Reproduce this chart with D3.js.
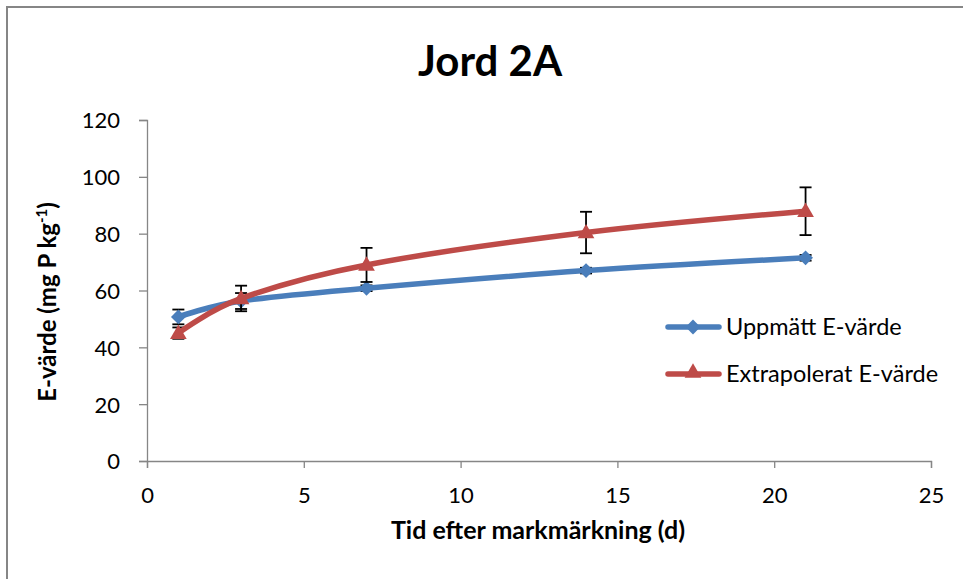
<!DOCTYPE html>
<html>
<head>
<meta charset="utf-8">
<script src="https://cdn.jsdelivr.net/npm/d3@7"></script>
<style>
  html, body { margin: 0; padding: 0; background: #fff; }
  svg { display: block; font-family: Lato, "Open Sans", sans-serif; }
</style>
</head>
<body>
<svg id="chart" width="963" height="579"></svg>
<script>
// Sampling days after soil labelling
const days = [1, 3, 7, 14, 21];
// Measured E-value and its error
const uppmatt = [50.7, 56.3, 60.8, 67.0, 71.5];
const uppmattErr = [2.6, 2.8, 1.0, 1.0, 1.0];
// Extrapolated E-value and its error
const extrapolerat = [45.0, 57.2, 69.0, 80.4, 87.9];
const extrapoleratErr = [2.0, 4.5, 6.0, 7.3, 8.4];

const xTicks = [0, 5, 10, 15, 20, 25];
const yTicks = [0, 20, 40, 60, 80, 100, 120];

const svg = d3.select("#chart");

// outer chart frame (runs off the right and bottom edges)
svg.append("rect")
  .attr("x", 7).attr("y", 7).attr("width", 1000).attr("height", 600)
  .attr("fill", "#fff").attr("stroke", "#868686").attr("stroke-width", 2);

const x = d3.scaleLinear().domain([0, 25]).range([147, 931]);
const y = d3.scaleLinear().domain([0, 120]).range([461, 120]);

// axes
const xAxis = svg.append("g").attr("transform", "translate(0,461)")
  .call(d3.axisBottom(x).tickValues(xTicks).tickSize(7).tickPadding(19));
const yAxis = svg.append("g").attr("transform", "translate(147,0)")
  .call(d3.axisLeft(y).tickValues(yTicks).tickSize(8).tickPadding(19));
[xAxis, yAxis].forEach(g => {
  g.selectAll("path.domain").attr("stroke", "#868686").attr("stroke-width", 1.3);
  g.selectAll(".tick line").attr("stroke", "#868686").attr("stroke-width", 1.3);
  g.selectAll(".tick text").attr("fill", "#000").style("font-size", "22px")
    .style("font-family", "Lato, 'Open Sans', sans-serif");
});
yAxis.selectAll(".tick text").attr("dy", "0.36em");

// titles
svg.append("text").attr("x", 490).attr("y", 76).attr("text-anchor", "middle")
  .style("font-size", "42px").style("font-weight", "bold").text("Jord 2A");

svg.append("text").attr("x", 538).attr("y", 539).attr("text-anchor", "middle")
  .style("font-size", "25px").style("font-weight", "bold")
  .text("Tid efter markmärkning (d)");

const yt = svg.append("text").attr("transform", "translate(56,302) rotate(-90)")
  .attr("text-anchor", "middle").style("font-size", "24px").style("font-weight", "bold");
yt.append("tspan").text("E-värde (mg P kg");
yt.append("tspan").attr("dy", -9).style("font-size", "15px").text("-1");
yt.append("tspan").attr("dy", 9).text(")");

const series = [
  { name: "Uppmätt E-värde", values: uppmatt, err: uppmattErr, color: "#4A7EBB", marker: "diamond" },
  { name: "Extrapolerat E-värde", values: extrapolerat, err: extrapoleratErr, color: "#BE4B48", marker: "triangle" }
];

const line = d3.line()
  .x(d => x(d[0])).y(d => y(d[1]))
  .curve(d3.curveCatmullRom.alpha(0));

const symbolPath = (m) => m === "diamond"
  ? d3.symbol().type(d3.symbolDiamond2).size(140)()
  : d3.symbol().type(d3.symbolTriangle2).size(200)();

// error bars
function drawErrors(s) {
  const g = svg.append("g").attr("stroke", "#000").attr("stroke-width", 1.8);
  days.forEach((d, i) => {
    const cx = x(d), top = y(s.values[i] + s.err[i]), bot = y(s.values[i] - s.err[i]);
    g.append("line").attr("x1", cx).attr("x2", cx).attr("y1", top).attr("y2", bot);
    g.append("line").attr("x1", cx - 6).attr("x2", cx + 6).attr("y1", top).attr("y2", top);
    g.append("line").attr("x1", cx - 6).attr("x2", cx + 6).attr("y1", bot).attr("y2", bot);
  });
}

series.forEach(s => {
  drawErrors(s);
  const pts = days.map((d, i) => [d, s.values[i]]);
  svg.append("path").datum(pts).attr("d", line)
    .attr("fill", "none").attr("stroke", s.color).attr("stroke-width", 5.5)
    .attr("stroke-linecap", "round").attr("stroke-linejoin", "round");
  svg.append("g").selectAll("path").data(pts).join("path")
    .attr("d", symbolPath(s.marker))
    .attr("transform", d => `translate(${x(d[0])},${y(d[1]) + (s.marker === "triangle" ? 1 : 0)})`)
    .attr("fill", s.color);
});

// legend
const legend = svg.append("g");
series.forEach((s, i) => {
  const ly = 327 + i * 47;
  legend.append("line").attr("x1", 668).attr("x2", 719).attr("y1", ly).attr("y2", ly)
    .attr("stroke", s.color).attr("stroke-width", 5.5).attr("stroke-linecap", "round");
  legend.append("path").attr("d", symbolPath(s.marker))
    .attr("transform", `translate(693,${ly + (s.marker === "triangle" ? -1 : 0)})`).attr("fill", s.color);
  legend.append("text").attr("x", 726).attr("y", ly).attr("dy", "0.36em")
    .style("font-size", "23.5px").text(s.name);
});
</script>
</body>
</html>
